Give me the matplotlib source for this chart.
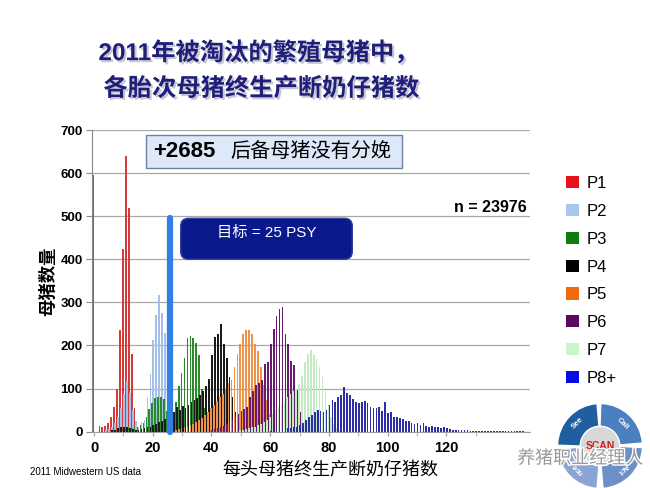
import matplotlib
matplotlib.use("Agg")
import matplotlib.pyplot as plt
import matplotlib.patheffects as pe
from matplotlib.patches import Patch, FancyBboxPatch, Rectangle, Wedge, Circle
import numpy as np

plt.rcParams['font.family'] = ['Liberation Sans', 'Noto Sans CJK SC']

# ---- data ----
parity_labels = ['P1', 'P2', 'P3', 'P4', 'P5', 'P6', 'P7', 'P8+']

p1_start = 0
p1_counts = [595, 0, 13, 12, 13, 19, 35, 58, 100, 235, 425, 640, 520, 180, 55, 10, 3]

p2_start = 4
p2_counts = [3, 6, 12, 20, 35, 55, 88, 118, 90, 50, 25, 12, 22, 28, 78, 135,
             212, 270, 318, 275, 228, 170, 95, 40, 15, 5]

p3_start = 10
p3_counts = [5, 6, 8, 9, 10, 12, 15, 20, 35, 52, 67, 78, 80, 80, 75, 48,
             25, 36, 70, 105, 136, 170, 217, 221, 217, 205, 178, 100, 55, 25, 10, 4]

p4_start = 6
p4_counts = [3, 5, 8, 10, 12, 10, 8, 6, 5, 5, 6, 8, 10, 12, 15, 18, 22, 25, 30, 35,
             40, 45, 58, 50, 60, 55, 62, 70, 73, 78, 85, 95, 105, 122, 179, 220,
             227, 250, 204, 170, 128, 80, 45, 22, 10, 4]

p5_start = 28
p5_counts = [5, 6, 8, 10, 12, 15, 18, 22, 27, 32, 38, 45, 55, 62, 72, 80, 88, 100,
             112, 120, 150, 180, 204, 227, 235, 237, 227, 204, 188, 150, 108, 73,
             40, 18, 6]

p6_start = 40
p6_counts = [4, 6, 8, 10, 14, 18, 22, 28, 34, 40, 48, 52, 58, 80, 95, 108, 112,
             120, 158, 162, 204, 238, 269, 285, 290, 227, 204, 165, 154, 96, 45, 18, 6]

p7_start = 50
p7_counts = [4, 5, 6, 8, 10, 12, 15, 18, 22, 28, 35, 42, 50, 58, 65, 72, 80, 88,
             95, 100, 110, 130, 162, 180, 190, 178, 168, 150, 128, 95, 62, 35, 18, 8, 3]

p8_start = 60
p8_counts = [2, 3, 4, 5, 6, 7, 8, 9, 10, 12, 15, 20, 28, 35, 38, 45, 50, 48, 46, 50,
             62, 73, 68, 80, 86, 104, 90, 84, 75, 69, 66, 70, 72, 66, 58, 56, 56, 58,
             48, 69, 44, 46, 33, 35, 31, 30, 25, 24, 21, 17, 19, 15, 20, 14, 12, 13,
             11, 10, 9, 10, 8, 6, 5, 5, 4, 4, 3, 3, 2, 2, 2, 1, 2, 2, 1, 1, 2, 1, 1,
             1, 1, 1, 2, 1, 2, 1, 1]

target_x = 26          # 25 PSY target marker
target_top = 495
extra_gilts = 2685
n_total = 23976

series = [(p1_start, p1_counts), (p2_start, p2_counts), (p3_start, p3_counts),
          (p4_start, p4_counts), (p5_start, p5_counts), (p6_start, p6_counts),
          (p7_start, p7_counts), (p8_start, p8_counts)]

legend_colors = ['#e8101a', '#a9c6ee', '#0d7d0d', '#000000',
                 '#f06a10', '#5a0a5e', '#ccf5cc', '#0a0ae6']
bar_colors = ['#d43a3a', '#a4c0e8', '#2a8a2a', '#1a1a1a',
              '#f0934a', '#6a1a6e', '#c4eac4', '#2c2ca8']

# ---- figure ----
fig = plt.figure(figsize=(6.5, 4.88), dpi=100)
ax = fig.add_axes([0.142, 0.1154, 0.6734, 0.6182])

for i, (start, counts) in enumerate(series):
    x = np.arange(start, start + len(counts))
    off = -0.18 if i % 2 == 0 else 0.18
    ax.bar(x + off, counts, width=0.58, color=bar_colors[i], linewidth=0, zorder=2)

# target line
ax.plot([target_x, target_x], [0, target_top], color='#2f7fe6', lw=4.5,
        solid_capstyle='round', zorder=5, clip_on=False)

ax.set_xlim(-0.6, 148.5)
ax.set_ylim(0, 700)
ax.set_yticks(np.arange(0, 701, 100))
ax.set_xticks(np.arange(0, 121, 20))
ax.set_xticks(np.arange(10, 141, 20), minor=True)
ax.yaxis.grid(True, color='#a8a8a8', lw=0.9)
ax.set_axisbelow(True)
for s in ['top', 'right']:
    ax.spines[s].set_visible(False)
ax.spines['left'].set_color('#8a8a8a')
ax.spines['bottom'].set_color('#a0a0a0')
ax.tick_params(axis='y', length=4, color='#8a8a8a', labelsize=9.5, pad=3)
ax.tick_params(axis='x', which='both', length=3, color='#a0a0a0', labelsize=10.5, pad=4)
for lab in ax.get_xticklabels() + ax.get_yticklabels():
    lab.set_fontweight('bold')

ax.set_ylabel('母猪数量', fontsize=12.5, fontweight='bold')
ax.yaxis.set_label_coords(-0.083, 0.5)

# annotation boxes
ax.add_patch(Rectangle((0.123, 0.873), 0.584, 0.112, transform=ax.transAxes,
                       facecolor='#dde8f8', edgecolor='#7080a0', lw=1.0, zorder=6))
ax.text(0.139, 0.930, f'+{extra_gilts}', transform=ax.transAxes, fontsize=16,
        fontweight='bold', va='center', ha='left', zorder=7)
ax.text(0.315, 0.930, '后备母猪没有分娩', transform=ax.transAxes, fontsize=14.5,
        va='center', ha='left', zorder=7)
ax.text(0.992, 0.743, f'n = {n_total}', transform=ax.transAxes, fontsize=11.5,
        fontweight='bold', ha='right', va='center', zorder=7)

fig.patches.append(FancyBboxPatch((180.7 / 650, 1 - 259.3 / 488), 171.6 / 650, 41 / 488,
                                  boxstyle='round,pad=0,rounding_size=0.012',
                                  mutation_aspect=650 / 488, transform=fig.transFigure,
                                  facecolor='#0a1a8c', edgecolor='#3040a0', lw=1, zorder=6))
fig.text(266.3 / 650, 1 - 233.3 / 488, '目标 = 25 PSY', color='white', fontsize=11,
         ha='center', va='center', zorder=7)

# legend
handles = [Patch(facecolor=c, edgecolor='none') for c in legend_colors]
fig.legend(handles, parity_labels, loc='upper left', bbox_to_anchor=(566 / 650, 1 - 176 / 488),
           frameon=False, fontsize=12, handlelength=0.8, handleheight=0.75,
           handletextpad=0.45, labelspacing=0.77, borderpad=0, borderaxespad=0)

# titles
shadow = [pe.withSimplePatchShadow(offset=(1.5, -1.5), shadow_rgbFace='#9090a8', alpha=0.5)]
fig.text(258 / 650, 1 - 53 / 488, '2011年被淘汰的繁殖母猪中，', ha='center', va='center',
         fontsize=17.5, fontweight='bold', color='#1f1f7a', path_effects=shadow)
fig.text(261 / 650, 1 - 89 / 488, '各胎次母猪终生产断奶仔猪数', ha='center', va='center',
         fontsize=17.5, fontweight='bold', color='#1f1f7a', path_effects=shadow)

fig.text(330 / 650, 1 - 471 / 488, '每头母猪终生产断奶仔猪数', ha='center', va='center',
         fontsize=13)
fig.text(30 / 650, 1 - 472 / 488, '2011 Midwestern US data', fontsize=7, va='center')

# SCAN logo
lax = fig.add_axes([0.8554, -0.0041, 0.1354, 0.1803])
lax.set_xlim(-1, 1)
lax.set_ylim(-1, 1)
lax.set_aspect('equal')
lax.axis('off')
segs = [(95, 178, '#1f5fa0', 'See', 135), (5, 88, '#4a7fc0', 'Call', 45),
        (-85, -3, '#6e90c8', 'Act', -45), (185, 265, '#8aa4d4', 'nce', 225)]
for t1, t2, col, lab, mid in segs:
    lax.add_patch(Wedge((0, 0), 0.95, t1, t2, width=0.5, facecolor=col, edgecolor='none'))
    r = 0.72
    lax.text(r * np.cos(np.radians(mid)), r * np.sin(np.radians(mid)), lab, color='white',
             fontsize=5.5, fontweight='bold', ha='center', va='center', rotation=mid - 90)
lax.add_patch(Circle((0, 0), 0.45, facecolor='#d8d8d8', edgecolor='white', lw=1))
lax.text(0, 0, 'SCAN', color='#d02020', fontsize=7.5, fontweight='bold', ha='center', va='center')

fig.text(580 / 650, 1 - 459 / 488, '养猪职业经理人', ha='center', va='center', fontsize=13,
         color='#9a9a9a', path_effects=[pe.withStroke(linewidth=2, foreground='white')], zorder=10)

fig.savefig('out.png', dpi=100)
